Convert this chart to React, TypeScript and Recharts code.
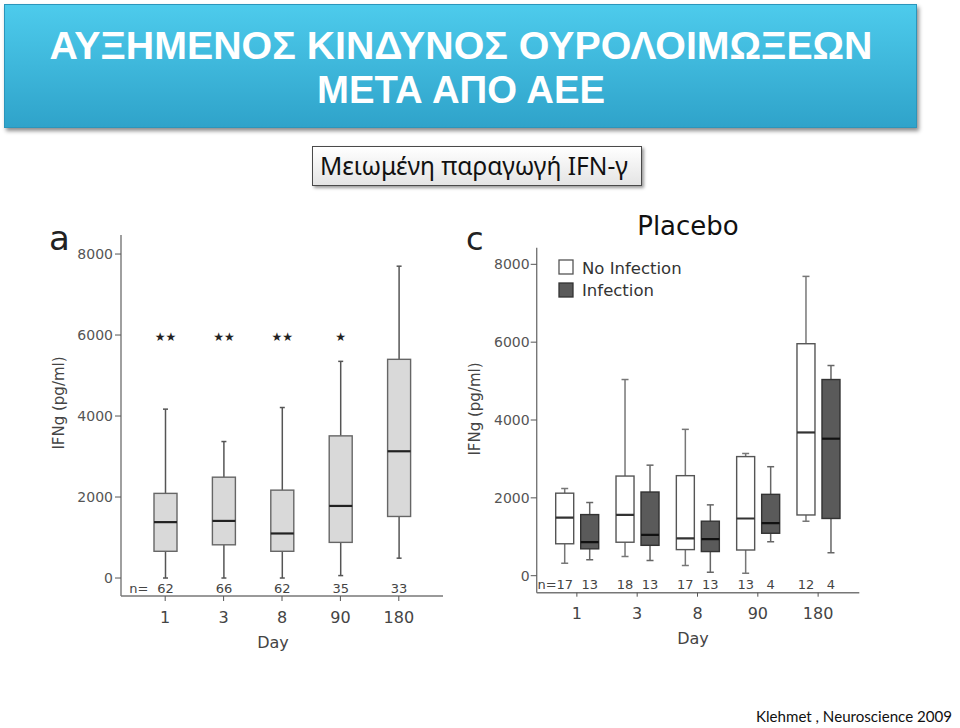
import React from 'react'
import { ComposedChart, Bar, XAxis, YAxis } from 'recharts'

// Day categories (shared by both panels)
const days = ['1', '3', '8', '90', '180']

// panel a: all patients, IFNg box stats per day
const aMin = [0, 0, 0, 60, 490]
const aQ1 = [660, 820, 660, 880, 1520]
const aMed = [1380, 1410, 1100, 1780, 3130]
const aQ3 = [2090, 2490, 2170, 3510, 5400]
const aMax = [4170, 3370, 4210, 5350, 7700]
const aN = [62, 66, 62, 35, 33]
const aSig = ['★★', '★★', '★★', '★', '']

// panel c: placebo, no infection
const noMin = [320, 490, 260, 60, 1400]
const noQ1 = [820, 860, 670, 660, 1560]
const noMed = [1490, 1560, 960, 1470, 3680]
const noQ3 = [2120, 2560, 2570, 3060, 5960]
const noMax = [2240, 5040, 3760, 3140, 7690]
const noN = [17, 18, 17, 13, 12]

// panel c: placebo, infection
const infMin = [410, 390, 90, 870, 590]
const infQ1 = [690, 780, 620, 1090, 1470]
const infMed = [860, 1050, 940, 1350, 3520]
const infQ3 = [1570, 2150, 1400, 2090, 5040]
const infMax = [1880, 2840, 1820, 2800, 5400]
const infN = [13, 13, 13, 4, 4]

const yTicks = [0, 2000, 4000, 6000, 8000]

const rowsA = days.map((day, i) => ({
  day,
  a: { min: aMin[i], q1: aQ1[i], med: aMed[i], q3: aQ3[i], max: aMax[i], n: aN[i], sig: aSig[i] },
}))

const rowsC = days.map((day, i) => ({
  day,
  no: { min: noMin[i], q1: noQ1[i], med: noMed[i], q3: noQ3[i], max: noMax[i], n: noN[i] },
  inf: { min: infMin[i], q1: infQ1[i], med: infMed[i], q3: infQ3[i], max: infMax[i], n: infN[i] },
}))

const FONT = '"DejaVu Sans", sans-serif'
const FRAME = '#777'

interface BoxOpts {
  fill: string
  stroke: string
  median: string
  whisker: string
  capHalf: number
  nOffset: number
  prefixGap?: number
}

// draws one box-and-whisker from the range bar [q1, q3]; other values go through the same scale
function makeBox(key: string, o: BoxOpts) {
  return (props: any) => {
    const { x, y, width, height, payload, index } = props
    const s = payload[key]
    const k = height / (s.q3 - s.q1)
    const py = (v: number) => y + (s.q3 - v) * k
    const cx = x + width / 2
    return (
      <g>
        <line x1={cx} x2={cx} y1={py(s.max)} y2={py(s.q3)} stroke={o.whisker} strokeWidth={1.5} />
        <line x1={cx} x2={cx} y1={py(s.q1)} y2={py(s.min)} stroke={o.whisker} strokeWidth={1.5} />
        <line x1={cx - o.capHalf} x2={cx + o.capHalf} y1={py(s.max)} y2={py(s.max)} stroke={o.whisker} strokeWidth={1.5} />
        <line x1={cx - o.capHalf} x2={cx + o.capHalf} y1={py(s.min)} y2={py(s.min)} stroke={o.whisker} strokeWidth={1.5} />
        <rect x={x} y={y} width={width} height={height} fill={o.fill} stroke={o.stroke} strokeWidth={1.4} />
        <line x1={x} x2={x + width} y1={py(s.med)} y2={py(s.med)} stroke={o.median} strokeWidth={2.2} />
        <text x={cx} y={py(0) + o.nOffset} textAnchor="middle" fontSize={13} fontFamily={FONT} fill="#444">
          {s.n}
        </text>
        {o.prefixGap !== undefined && index === 0 && (
          <text x={cx - o.prefixGap} y={py(0) + o.nOffset} textAnchor="end" fontSize={13} fontFamily={FONT} fill="#444">
            n=
          </text>
        )}
        {s.sig && (
          <text x={cx} y={py(5950)} textAnchor="middle" dominantBaseline="central" fontSize={12} fontFamily={FONT} fill="#222">
            {s.sig}
          </text>
        )}
      </g>
    )
  }
}

const yTick = { fill: '#555', fontSize: 14, fontFamily: FONT }
const xTick = { fill: '#444', fontSize: 16, fontFamily: FONT }

function PanelA() {
  const domain: [number, number] = [-444, 8470]
  return (
    <div style={{ position: 'absolute', left: 0, top: 190 }}>
      <ComposedChart width={470} height={480} data={rowsA} margin={{ top: 45, right: 27, bottom: 34, left: 81 }}>
        <XAxis dataKey="day" padding={{ left: 15, right: 15 }} height={40} axisLine={{ stroke: FRAME, strokeWidth: 1.4 }}
          tickLine={{ stroke: '#555' }} tickSize={5} tickMargin={11} tick={xTick} />
        <XAxis xAxisId="t" dataKey="day" orientation="top" height={0} tick={false} tickLine={false}
          axisLine={{ stroke: FRAME, strokeWidth: 1.4 }} />
        <YAxis type="number" domain={domain} ticks={yTicks} width={40} allowDataOverflow
          axisLine={{ stroke: FRAME, strokeWidth: 1.4 }} tickLine={{ stroke: '#555' }} tickSize={6} tickMargin={2} tick={yTick} />
        <YAxis yAxisId="r" type="number" orientation="right" domain={domain} width={0} tick={false} tickLine={false}
          axisLine={{ stroke: FRAME, strokeWidth: 1.4 }} />
        <Bar dataKey={(d: any) => [d.a.q1, d.a.q3]} barSize={23} isAnimationActive={false}
          shape={makeBox('a', { fill: '#d9d9d9', stroke: '#666', median: '#222', whisker: '#555', capHalf: 2.5, nOffset: 15, prefixGap: 17 })} />
      </ComposedChart>
    </div>
  )
}

function PanelC() {
  const domain: [number, number] = [-437, 8427]
  return (
    <div style={{ position: 'absolute', left: 460, top: 190 }}>
      <ComposedChart width={500} height={480} data={rowsC} barGap={7} margin={{ top: 57.7, right: 100.7, bottom: 37.3, left: 36.7 }}>
        <XAxis dataKey="day" padding={{ left: 10, right: 11 }} height={40} axisLine={{ stroke: FRAME, strokeWidth: 1.4 }}
          tickLine={{ stroke: '#555' }} tickSize={4} tickMargin={10.5} tick={xTick} />
        <XAxis xAxisId="t" dataKey="day" orientation="top" height={0} tick={false} tickLine={false}
          axisLine={{ stroke: FRAME, strokeWidth: 1.4 }} />
        <YAxis type="number" domain={domain} ticks={yTicks} width={40} allowDataOverflow
          axisLine={{ stroke: FRAME, strokeWidth: 1.4 }} tickLine={{ stroke: '#555' }} tickSize={6} tickMargin={1} tick={yTick} />
        <YAxis yAxisId="r" type="number" orientation="right" domain={domain} width={0} tick={false} tickLine={false}
          axisLine={{ stroke: FRAME, strokeWidth: 1.4 }} />
        <Bar dataKey={(d: any) => [d.no.q1, d.no.q3]} barSize={18} isAnimationActive={false}
          shape={makeBox('no', { fill: '#fff', stroke: '#555', median: '#333', whisker: '#777', capHalf: 3.5, nOffset: 13, prefixGap: 8 })} />
        <Bar dataKey={(d: any) => [d.inf.q1, d.inf.q3]} barSize={18} isAnimationActive={false}
          shape={makeBox('inf', { fill: '#5a5a5a', stroke: '#333', median: '#111', whisker: '#666', capHalf: 3.5, nOffset: 13 })} />
      </ComposedChart>
    </div>
  )
}

export default function App() {
  return (
    <div style={{ position: 'absolute', left: 0, top: 0, width: 960, height: 728, background: '#fff', overflow: 'hidden' }}>
      {/* title banner */}
      <div style={{
        position: 'absolute', left: 4, top: 4, width: 913, height: 124,
        background: 'linear-gradient(#4dcbec, #2fa3ca)', border: '1px solid #2b95bb',
        boxShadow: '2px 3px 4px rgba(0,0,0,0.45)', boxSizing: 'border-box',
      }} />
      {/* subtitle box */}
      <div style={{
        position: 'absolute', left: 312, top: 146, width: 330, height: 40,
        background: 'linear-gradient(#ffffff, #e4e4e4)', border: '1.5px solid #4a4a4a',
        boxShadow: '2px 2px 3px rgba(0,0,0,0.4)', boxSizing: 'border-box',
      }} />

      <PanelA />
      <PanelC />

      <svg width={960} height={728} style={{ position: 'absolute', left: 0, top: 0, pointerEvents: 'none' }}>
        <g fontFamily='"Liberation Sans", Arial, sans-serif' fontWeight="bold" fill="#fff" textAnchor="middle">
          <text x={461} y={58.5} fontSize={39} textLength={823} lengthAdjust="spacingAndGlyphs">ΑΥΞΗΜΕΝΟΣ ΚΙΝΔΥΝΟΣ ΟΥΡΟΛΟΙΜΩΞΕΩΝ</text>
          <text x={461} y={103} fontSize={39} textLength={288} lengthAdjust="spacingAndGlyphs">ΜΕΤΑ ΑΠΟ ΑΕΕ</text>
        </g>
        <text x={474} y={175} textAnchor="middle" fontSize={25} fontFamily='"Noto Sans", sans-serif' fill="#111"
          textLength={308} lengthAdjust="spacingAndGlyphs">Μειωμένη παραγωγή IFN-γ</text>

        <g fontFamily={FONT}>
          <text x={49} y={250} fontSize={34} fill="#222">a</text>
          <text x={59} y={403} fontSize={15} fill="#444" textAnchor="middle" dominantBaseline="central"
            transform="rotate(-90 59 403)">IFNg (pg/ml)</text>
          <text x={273} y={648} fontSize={16} fill="#444" textAnchor="middle">Day</text>

          <text x={466} y={250} fontSize={32} fill="#222">c</text>
          <text x={688} y={235} fontSize={26} fill="#111" textAnchor="middle">Placebo</text>
          <text x={475} y={409} fontSize={15} fill="#444" textAnchor="middle" dominantBaseline="central"
            transform="rotate(-90 475 409)">IFNg (pg/ml)</text>
          <text x={693} y={644} fontSize={16} fill="#444" textAnchor="middle">Day</text>

          <rect x={559} y={260} width={14} height={14} fill="#fff" stroke="#555" strokeWidth={1.3} />
          <rect x={559} y={283} width={14} height={14} fill="#5a5a5a" stroke="#333" strokeWidth={1.3} />
          <text x={582} y={274} fontSize={16.5} fill="#333">No Infection</text>
          <text x={582} y={296} fontSize={16.5} fill="#333">Infection</text>
        </g>

        <text x={756} y={722} fontSize={15} fontFamily='Lato, "Open Sans", sans-serif' fill="#111"
          textLength={196} lengthAdjust="spacingAndGlyphs">Klehmet , Neuroscience 2009</text>
      </svg>
    </div>
  )
}
